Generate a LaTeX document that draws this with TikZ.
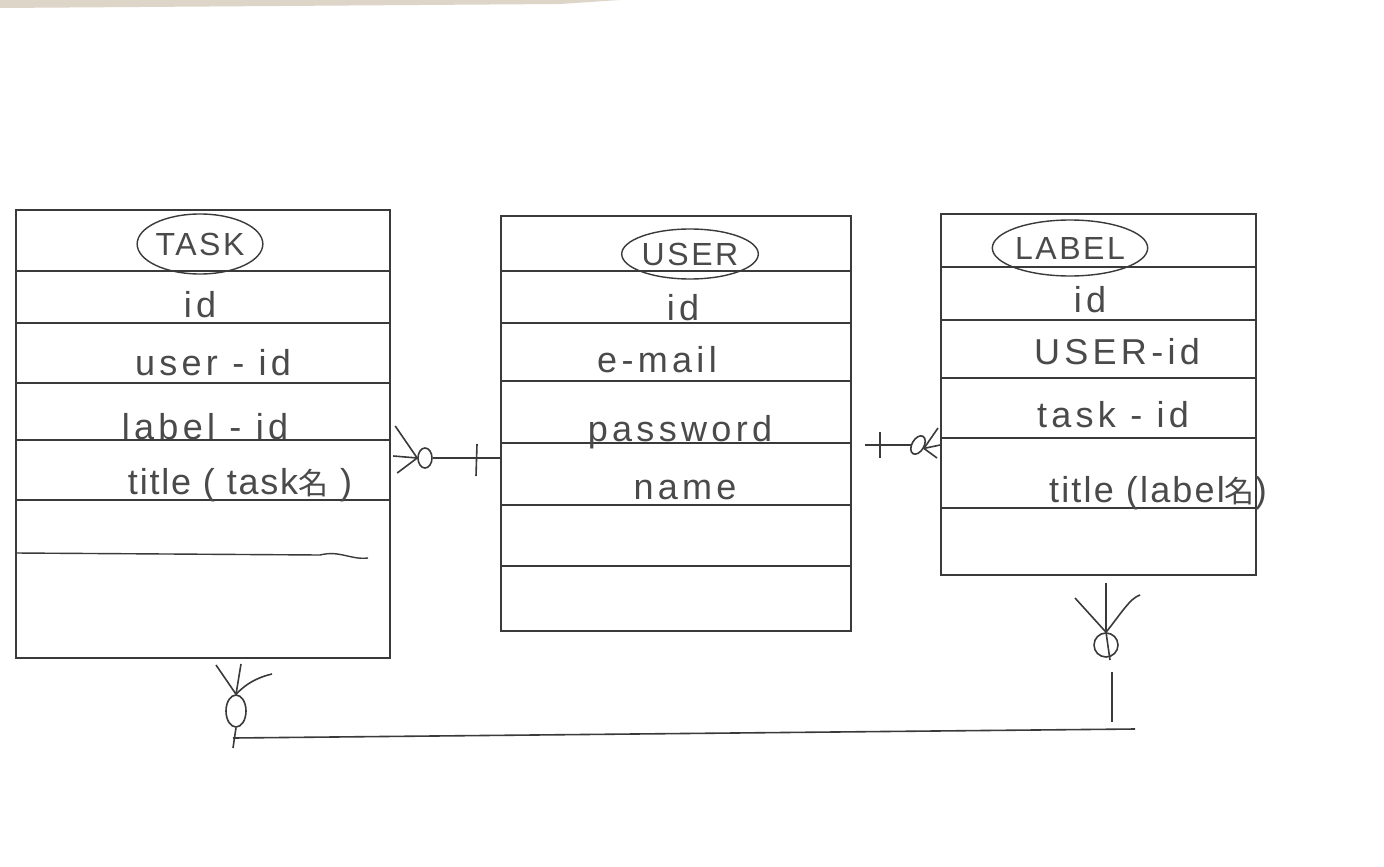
\documentclass[tikz,border=0pt]{standalone}
\usepackage{fontspec}
\setmainfont{Liberation Sans}
\newfontfamily\jp{Noto Sans CJK JP}
\usetikzlibrary{shapes.geometric,fit}
\definecolor{pencil}{HTML}{3A3A3A}
\definecolor{ink}{HTML}{4A4A4A}
\definecolor{paper}{HTML}{DDD5C8}
\begin{document}
\begin{tikzpicture}[x=0.5pt,y=-0.5pt,
  tbl/.style={draw=pencil,line width=0.8pt,inner sep=0pt},
  rowline/.style={draw=pencil,line width=0.7pt},
  attr/.style={text=ink,font=\fontsize{18}{20}\selectfont\addfontfeatures{LetterSpace=12},inner sep=1pt},
  hdr/.style={draw=pencil,line width=0.7pt,ellipse,text=ink,inner sep=0pt,font=\fontsize{16}{18}\selectfont\addfontfeatures{LetterSpace=8}},
  conn/.style={draw=pencil,line width=0.8pt},
  zero/.style={draw=pencil,line width=0.8pt,ellipse,inner sep=0pt}
]
\useasboundingbox (0,0) rectangle (1384,866);
\fill[white] (0,0) rectangle (1384,866);
\fill[paper] (0,0) -- (620,0) -- (560,4) -- (0,8) -- cycle;

% ---------- TASK ----------
\node[tbl,fit={(16,210) (390,658)}] (task) {};
\foreach \yy in {271,323,383,440,500}
  \draw[rowline] (task.west |- 0,\yy) -- (task.east |- 0,\yy);
\draw[rowline] (task.west |- 0,553) -- (320,555) .. controls (340,550) and (350,560) .. (368,558);
\node[hdr,minimum width=55pt,minimum height=30pt] (taskh) at (200,244) {TASK};
\node[attr] (task1) at (200,305) {id};
\node[attr] (task2) at (213,363) {user - id};
\node[attr] (task3) at (205,427) {label - id};
\node[attr,font=\fontsize{18}{20}\selectfont\addfontfeatures{LetterSpace=5}] (task4) at (240,485) {title ( task{\jp\fontsize{15}{18}\selectfont 名} )};

% ---------- USER ----------
\node[tbl,fit={(501,216) (851,631)}] (user) {};
\foreach \yy in {271,323,381,443,505,566}
  \draw[rowline] (user.west |- 0,\yy) -- (user.east |- 0,\yy);
\node[hdr,minimum width=58pt,minimum height=25pt] (userh) at (690,254) {USER};
\node[attr] (user1) at (683,308) {id};
\node[attr] (user2) at (657,360) {e-mail};
\node[attr] (user3) at (680,432) {password};
\node[attr] (user4) at (685,490) {name};

% ---------- LABEL ----------
\node[tbl,fit={(941,214) (1256,575)}] (label) {};
\foreach \yy in {267,320,378,438,508}
  \draw[rowline] (label.west |- 0,\yy) -- (label.east |- 0,\yy);
\node[hdr,minimum width=75pt,minimum height=28pt] (labelh) at (1070,248) {LABEL};
\node[attr] (label1) at (1090,300) {id};
\node[attr] (label2) at (1117,352) {USER-id};
\node[attr] (label3) at (1113,415) {task - id};
\node[attr,font=\fontsize{18}{20}\selectfont\addfontfeatures{LetterSpace=6}] (label4) at (1158,493) {title (label{\jp\fontsize{15}{18}\selectfont 名})};

% ---------- TASK -- USER : zero-or-many to one ----------
\node[zero,minimum width=7pt,minimum height=10pt] (tuc) at (425,458) {};
\coordinate (tuk) at (tuc.west);
\draw[conn] (tuk) -- ++(-22,-32);
\draw[conn] (tuk) -- ++(-24,-2);
\draw[conn] (tuk) -- ++(-20,15);
\draw[conn] (tuc) -- (user.west |- tuc);
\draw[conn] (477,444) -- (476,476);

% ---------- USER -- LABEL : one to zero-or-many ----------
\coordinate (ulL) at (865,445);
\node[zero,minimum width=6pt,minimum height=10pt,rotate=-30] (ulc) at (918,445) {};
\draw[conn] (ulL) -- (ulc);
\draw[conn] (880,432) -- (880,458);
\draw[conn] (ulc.east) -- (938,428);
\draw[conn] (ulc.east) -- (label.west |- ulc);
\draw[conn] (ulc.east) -- (937,458);

% ---------- TASK -- LABEL : zero-or-many to zero-or-many ----------
\node[zero,minimum width=10pt,minimum height=16pt] (tlc) at (236,711) {};
\draw[conn] (tlc.north) -- (216,665);
\draw[conn] (tlc.north) -- (241,664);
\draw[conn] (tlc.north) .. controls (245,685) and (255,678) .. (272,674);
\coordinate (tlA) at (233,748);
\draw[conn] (tlc.south) -- (tlA);
\node[zero,minimum width=12pt,minimum height=12pt] (ltc) at (1106,645) {};
\draw[conn] (ltc.north) -- (1075,598);
\draw[conn] (ltc.north) -- (1106,583);
\draw[conn] (ltc.north) .. controls (1120,615) and (1130,598) .. (1140,595);
\coordinate (ltB) at (1112,722);
\draw[conn] (ltc.north) -- (1110,660);
\draw[conn] (1112,672) -- (ltB);
\coordinate (tlH) at (233,738);
\coordinate (ltH) at (1135,729);
\draw[conn] (tlH) -- (ltH);
\end{tikzpicture}
\end{document}
